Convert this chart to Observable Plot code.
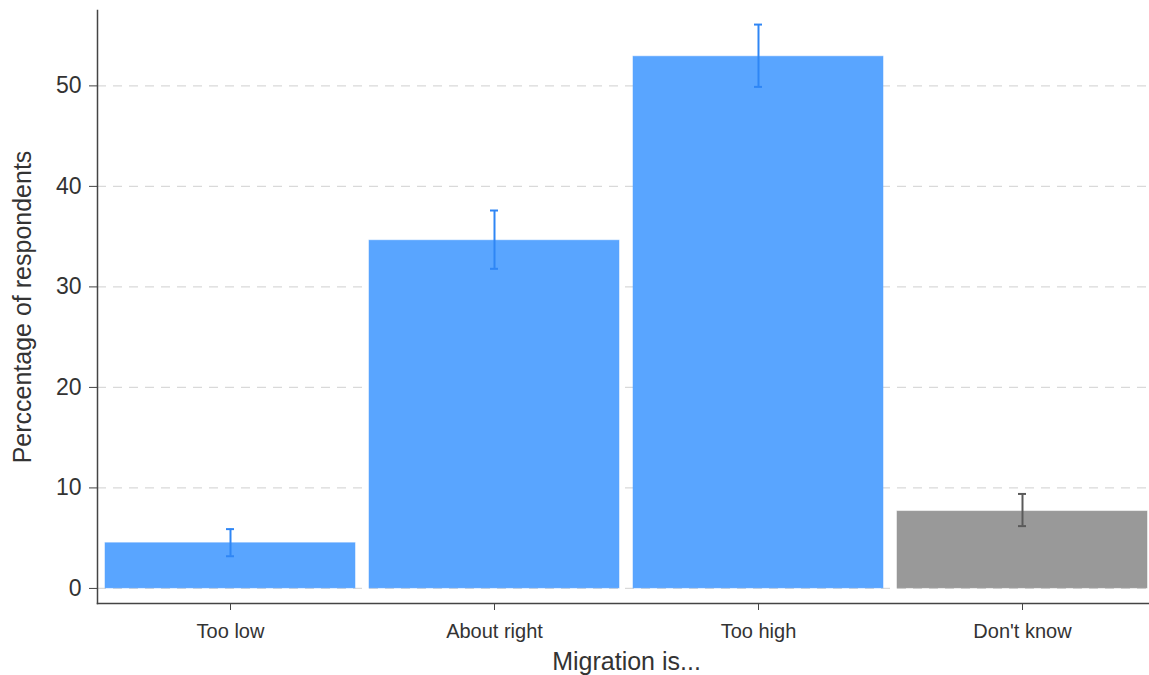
<!DOCTYPE html>
<html>
<head>
<meta charset="utf-8">
<script src="https://cdn.jsdelivr.net/npm/d3@7"></script>
<script src="https://cdn.jsdelivr.net/npm/@observablehq/plot@0.6"></script>
<style>
  body { margin: 0; background: #fff; }
  #chart svg { overflow: visible; }
</style>
</head>
<body>
<div id="chart"></div>
<script>
const categories = ["Too low", "About right", "Too high", "Don't know"];
const values = [4.5, 34.6, 52.9, 7.65];
const lower = [3.2, 31.8, 49.9, 6.2];
const upper = [5.9, 37.6, 56.1, 9.4];
const groups = ["opinion", "opinion", "opinion", "dk"];
const yTicks = [0, 10, 20, 30, 40, 50];

const data = categories.map((c, i) => ({
  cat: c, value: values[i], lo: lower[i], hi: upper[i], group: groups[i]
}));

const fillColor = {opinion: "#59a5ff", dk: "#999999"};
const errColor = {opinion: "#2f86f5", dk: "#5a5a5a"};

const plot = Plot.plot({
  width: 1149,
  height: 675,
  marginLeft: 97,
  marginRight: -6,
  marginTop: 10,
  marginBottom: 72,
  style: {fontFamily: "'Liberation Sans', Arial, sans-serif", color: "#333", background: "#fff"},
  x: {domain: categories, paddingInner: 0.053, paddingOuter: 0.0265, label: null},
  y: {domain: [-1.5, 57.5], label: null},
  marks: [
    Plot.gridY(yTicks, {stroke: "#d9d9d9", strokeOpacity: 1, strokeDasharray: "9,7", strokeWidth: 1.3}),
    Plot.barY(data, {x: "cat", y1: 0, y2: "value", fill: d => fillColor[d.group], stroke: d => fillColor[d.group], strokeOpacity: 0.5}),
    Plot.ruleX(data, {x: "cat", y1: "lo", y2: "hi", stroke: d => errColor[d.group], strokeWidth: 2}),
    Plot.tickY(data, {x: "cat", y: "lo", stroke: d => errColor[d.group], strokeWidth: 2, insetLeft: 121, insetRight: 121}),
    Plot.tickY(data, {x: "cat", y: "hi", stroke: d => errColor[d.group], strokeWidth: 2, insetLeft: 121, insetRight: 121}),
    Plot.axisY({ticks: yTicks, tickSize: 8, tickPadding: 8, fontSize: 23, stroke: "#444", label: null, color: "#333"}),
    Plot.axisX({tickSize: 7, tickPadding: 13, fontSize: 20, stroke: "#444", label: null}),
    Plot.frame({anchor: "left", stroke: "#444", strokeWidth: 1.5}),
    Plot.frame({anchor: "bottom", stroke: "#444", strokeWidth: 1.5}),
    Plot.text(["Migration is..."], {frameAnchor: "bottom", dy: 66, fontSize: 25, fill: "#333"}),
    Plot.text(["Perccentage of respondents"], {frameAnchor: "left", textAnchor: "middle", dx: -75, rotate: -90, fontSize: 25, fill: "#333"})
  ]
});
document.getElementById("chart").appendChild(plot);
</script>
</body>
</html>
